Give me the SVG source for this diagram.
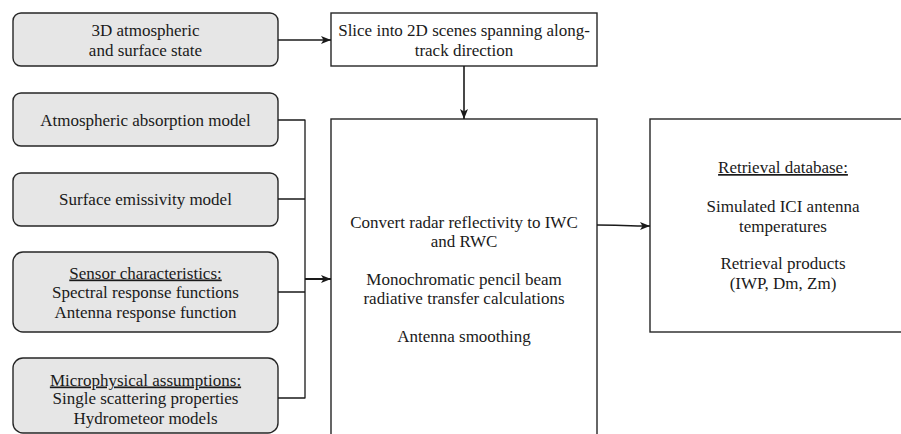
<svg xmlns="http://www.w3.org/2000/svg" width="901" height="434" viewBox="0 0 901 434">
<defs>
<style>
.in{fill:#e6e6e6;stroke:#262626;stroke-width:1.4}
.pr{fill:#ffffff;stroke:#262626;stroke-width:1.4}
text{font-family:"Liberation Serif","Times New Roman",serif;font-size:17px;fill:#1a1a1a;text-anchor:middle}
.u{text-decoration:underline}
.c{fill:none;stroke:#1a1a1a;stroke-width:1.3}
.a{fill:none;stroke:#1a1a1a;stroke-width:1.6;marker-end:url(#ah)}
</style>
<marker id="ah" viewBox="0 0 10 8" refX="10" refY="4" markerWidth="10" markerHeight="8" markerUnits="userSpaceOnUse" orient="auto">
<path d="M0,0 L10,4 L0,8 L2.5,4 z" fill="#1a1a1a"/>
</marker>
</defs>
<g id="state">
<rect class="in" x="13" y="13" width="265" height="53" rx="8"/>
<text x="145.5" y="35.5">3D atmospheric</text>
<text x="145.5" y="55.5">and surface state</text>
</g>
<g id="absorption">
<rect class="in" x="13" y="93" width="265" height="53" rx="8"/>
<text x="145.5" y="125.5">Atmospheric absorption model</text>
</g>
<g id="emissivity">
<rect class="in" x="13" y="173" width="265" height="53" rx="8"/>
<text x="145.5" y="204.5">Surface emissivity model</text>
</g>
<g id="sensor">
<rect class="in" x="13" y="252" width="265" height="80" rx="10"/>
<text class="u" x="145.5" y="278.5">Sensor characteristics:</text>
<text x="145.5" y="297.5">Spectral response functions</text>
<text x="145.5" y="317.5">Antenna response function</text>
</g>
<g id="micro">
<rect class="in" x="13" y="358" width="265" height="75" rx="10"/>
<text class="u" x="145.5" y="385.5">Microphysical assumptions:</text>
<text x="145.5" y="404">Single scattering properties</text>
<text x="145.5" y="423.5">Hydrometeor models</text>
</g>
<g id="slice">
<rect class="pr" x="331" y="13" width="266" height="53"/>
<text x="464" y="35.5">Slice into 2D scenes spanning along-</text>
<text x="464" y="55.5">track direction</text>
</g>
<g id="rt">
<rect class="pr" x="331" y="119" width="266" height="330"/>
<text x="464" y="227.5">Convert radar reflectivity to IWC</text>
<text x="464" y="246.5">and RWC</text>
<text x="464" y="284.5">Monochromatic pencil beam</text>
<text x="464" y="303.5">radiative transfer calculations</text>
<text x="464" y="341.5">Antenna smoothing</text>
</g>
<g id="db">
<rect class="pr" x="650" y="119" width="266" height="213"/>
<text class="u" x="783" y="173">Retrieval database:</text>
<text x="783" y="212">Simulated ICI antenna</text>
<text x="783" y="231.5">temperatures</text>
<text x="783" y="269">Retrieval products</text>
<text x="783" y="288.5">(IWP, Dm, Zm)</text>
</g>
<g id="connectors">
<path class="a" d="M278,40 L331,40"/>
<path class="a" d="M464,66 L464,119"/>
<path class="c" d="M278,120 H305 M278,199 H305 M278,292 H305 M278,398 H305 M305,119.4 V398.6"/>
<path class="a" d="M305,279 L331,279" style="stroke-width:2"/>
<path class="a" d="M597,225 C618,225 628,226 650,226"/>
</g>
</svg>
